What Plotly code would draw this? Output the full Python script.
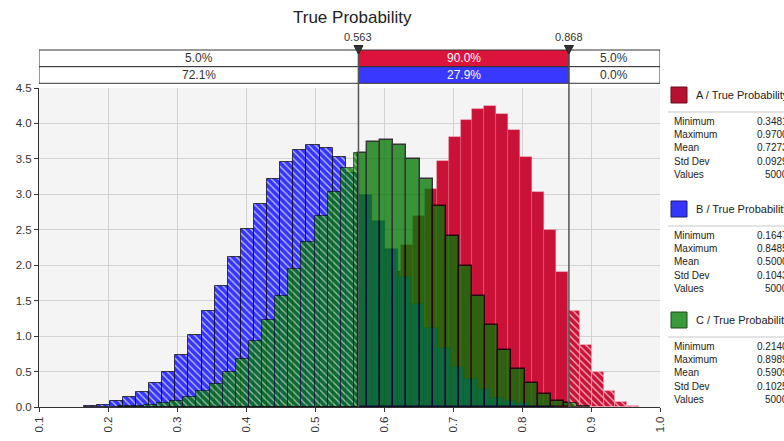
import numpy as np
import plotly.graph_objects as go

# ---------------- data ----------------
series_names = ["A / True Probability", "B / True Probability", "C / True Probability"]

a_range = [0.3481, 0.9700]
b_range = [0.1647, 0.8485]
c_range = [0.2140, 0.8989]

a_heights = [0.005, 0.01, 0.01, 0.02, 0.04, 0.06, 0.10, 0.16, 0.24, 0.35, 0.50, 0.70,
             0.93, 1.23, 1.54, 1.92, 2.29, 2.69, 3.08, 3.47, 3.81, 4.05, 4.20, 4.25,
             4.13, 3.91, 3.52, 3.03, 2.50, 1.90, 1.35, 0.87, 0.49, 0.23, 0.07, 0.02]
b_heights = [0.02, 0.03, 0.08, 0.14, 0.21, 0.34, 0.50, 0.74, 1.02, 1.35, 1.71, 2.11,
             2.51, 2.86, 3.21, 3.45, 3.62, 3.69, 3.66, 3.52, 3.30, 2.99, 2.62, 2.23,
             1.83, 1.46, 1.12, 0.83, 0.57, 0.39, 0.26, 0.13, 0.08, 0.06, 0.02, 0.01]
c_heights = [0.01, 0.02, 0.03, 0.06, 0.09, 0.14, 0.23, 0.33, 0.50, 0.68, 0.93, 1.23,
             1.56, 1.94, 2.33, 2.70, 3.04, 3.37, 3.59, 3.74, 3.77, 3.69, 3.50, 3.21,
             2.84, 2.41, 1.99, 1.56, 1.15, 0.81, 0.54, 0.34, 0.18, 0.09, 0.05, 0.02]

stat_labels = ["Minimum", "Maximum", "Mean", "Std Dev", "Values"]
a_stats = ["0.3481", "0.9700", "0.7273", "0.0929", "5000"]
b_stats = ["0.1647", "0.8485", "0.5000", "0.1043", "5000"]
c_stats = ["0.2140", "0.8989", "0.5909", "0.1025", "5000"]

delimiters = [0.563, 0.868]
delimiter_labels = ["0.563", "0.868"]
row_a_pct = ["5.0%", "90.0%", "5.0%"]
row_b_pct = ["72.1%", "27.9%", "0.0%"]

x_ticks = [0.1, 0.2, 0.3, 0.4, 0.5, 0.6, 0.7, 0.8, 0.9, 1.0]
x_ticktext = ["0.1", "0.2", "0.3", "0.4", "0.5", "0.6", "0.7", "0.8", "0.9", "1.0"]
title_text = "True Probability"

# ---------------- styling / geometry ----------------
W, H = 784, 441
ML, MR, MT, MB = 39, 124, 88, 34
PW, PH = W - ML - MR, H - MT - MB
X0, X1 = 0.1, 1.0
Y0, Y1 = 0.0, 4.5
FONT = "Liberation Sans"

RED = "#CA1238"
RED_CELL = "#DC143C"
BLUE = "#3535FF"
GREEN = "rgb(5,120,5)"
GREEN_OP = 0.78


def px2x(px):
    return (px - ML) / PW


def py2y(py):
    return (H - MB - py) / PH


def split_bins(rng, heights):
    edges = np.linspace(rng[0], rng[1], len(heights) + 1)
    d1, d2 = delimiters
    hatched = {"x": [], "w": [], "y": []}
    solid = {"x": [], "w": [], "y": []}
    for lo, hi, h in zip(edges[:-1], edges[1:], heights):
        segs = []
        if lo < d1:
            segs.append((lo, min(hi, d1), hatched))
        if hi > d1 and lo < d2:
            segs.append((max(lo, d1), min(hi, d2), solid))
        if hi > d2:
            segs.append((max(lo, d2), hi, hatched))
        for a, b, tgt in segs:
            if b - a > 1e-9:
                tgt["x"].append((a + b) / 2)
                tgt["w"].append(b - a)
                tgt["y"].append(h)
    return hatched, solid


fig = go.Figure()

series = [
    (a_range, a_heights, RED, 1.0, dict(color="rgba(235,110,130,0.55)", width=0.6),
     dict(color="rgba(240,170,180,0.8)", width=0.8), 0.7),
    (b_range, b_heights, BLUE, 1.0, dict(color="rgba(20,20,90,0.6)", width=0.6),
     dict(color="rgba(0,0,0,0.7)", width=1), 0.7),
    (c_range, c_heights, GREEN, GREEN_OP, dict(color="#000000", width=1.4),
     dict(color="rgba(0,0,0,0.75)", width=1), 0.55),
]

for rng, hts, col, op, solid_line, hatch_line, fgop in series:
    hatched, solid = split_bins(rng, hts)
    fig.add_trace(go.Bar(
        x=solid["x"], y=solid["y"], width=solid["w"],
        marker=dict(color=col, line=solid_line),
        opacity=op, hoverinfo="skip"))
    fig.add_trace(go.Bar(
        x=hatched["x"], y=hatched["y"], width=hatched["w"],
        marker=dict(color=col, line=hatch_line,
                    pattern=dict(shape="\\", fgcolor="#ffffff", fgopacity=fgop,
                                 bgcolor=col, size=5, solidity=0.25)),
        opacity=op, hoverinfo="skip"))

shapes = []
annotations = []


def label(x, y, text, size, color, xref="paper", yref="paper", xanchor="center"):
    annotations.append(dict(x=x, y=y, xref=xref, yref=yref, text=text, showarrow=False,
                            xanchor=xanchor, yanchor="middle",
                            font=dict(family=FONT, size=size, color=color)))


# top probability bars
row_top = [py2y(50), py2y(66.7)]
row_bot = [py2y(66.7), py2y(83.3)]
bounds = [X0] + delimiters + [X1]
for pcts, ys, midcol in [(row_a_pct, row_top, RED_CELL), (row_b_pct, row_bot, "#3838FF")]:
    for i in range(3):
        fill = midcol if i == 1 else "white"
        shapes.append(dict(type="rect", xref="x", yref="paper",
                           x0=bounds[i], x1=bounds[i + 1], y0=ys[1], y1=ys[0],
                           fillcolor=fill, line=dict(color="#333333", width=1)))
        label((bounds[i] + bounds[i + 1]) / 2, (ys[0] + ys[1]) / 2, pcts[i], 12,
              "white" if i == 1 else "#333333", xref="x")

# delimiter lines, triangles and labels
half_tri = 4.5 * (X1 - X0) / PW
for d, lab in zip(delimiters, delimiter_labels):
    shapes.append(dict(type="line", xref="x", yref="paper", x0=d, x1=d,
                       y0=0, y1=py2y(50), line=dict(color="#555555", width=1.5),
                       layer="above"))
    shapes.append(dict(type="path", xref="x", yref="paper",
                       path=f"M {d - half_tri},{py2y(45.5)} L {d + half_tri},{py2y(45.5)} "
                            f"L {d},{py2y(54)} Z",
                       fillcolor="#333333", line=dict(color="#222222", width=1),
                       layer="above"))
    label(d, py2y(37), lab, 11, "#333333", xref="x")

# title
label(px2x(352), py2y(18), title_text, 17, "#222222")

# side legend / statistics
legend_blocks = [
    (series_names[0], a_stats, "#B8102F", "#6a0a1a", 95),
    (series_names[1], b_stats, "#3535FF", "#1a1a70", 209),
    (series_names[2], c_stats, "#3A9A3A", "#1a4a1a", 320),
]
for name, stats, col, border, yc in legend_blocks:
    shapes.append(dict(type="rect", xref="paper", yref="paper",
                       x0=px2x(671), x1=px2x(687), y0=py2y(yc + 8), y1=py2y(yc - 8),
                       fillcolor=col, line=dict(color=border, width=1)))
    label(px2x(694), py2y(yc), name, 11, "#222222", xanchor="left")
    shapes.append(dict(type="line", xref="paper", yref="paper",
                       x0=px2x(668), x1=px2x(784), y0=py2y(yc + 17), y1=py2y(yc + 17),
                       line=dict(color="#c8c8c8", width=1)))
    for j, (lab, val) in enumerate(zip(stat_labels, stats)):
        yy = py2y(yc + 26 + 13.4 * j)
        label(px2x(672), yy, lab, 10, "#222222", xanchor="left")
        label(px2x(790), yy, val, 10, "#222222", xanchor="right")

fig.update_layout(
    width=W, height=H,
    margin=dict(l=ML, r=MR, t=MT, b=MB, pad=0, autoexpand=False),
    paper_bgcolor="white", plot_bgcolor="#f4f4f4",
    barmode="overlay", bargap=0, showlegend=False,
    shapes=shapes, annotations=annotations,
    font=dict(family=FONT, size=11, color="#333333"),
    xaxis=dict(range=[X0, X1], tickvals=x_ticks, ticktext=x_ticktext, tickangle=-90,
               ticks="outside", ticklen=4, tickcolor="#333333", automargin=False,
               showgrid=True, gridcolor="#d3d3d3", gridwidth=1,
               showline=True, linecolor="#333333", linewidth=1, zeroline=False,
               tickfont=dict(family=FONT, size=11.5, color="#333333")),
    yaxis=dict(range=[Y0, Y1], dtick=0.5, tick0=0, tickformat=".1f",
               ticks="outside", ticklen=4, tickcolor="#333333", automargin=False,
               showgrid=True, gridcolor="#d3d3d3", gridwidth=1,
               showline=True, linecolor="#333333", linewidth=1, zeroline=False,
               tickfont=dict(family=FONT, size=11.5, color="#333333")),
)

fig.write_html("out.html", config={"displayModeBar": False},
               post_script="document.body.style.margin='0';document.body.style.overflow='hidden';")
